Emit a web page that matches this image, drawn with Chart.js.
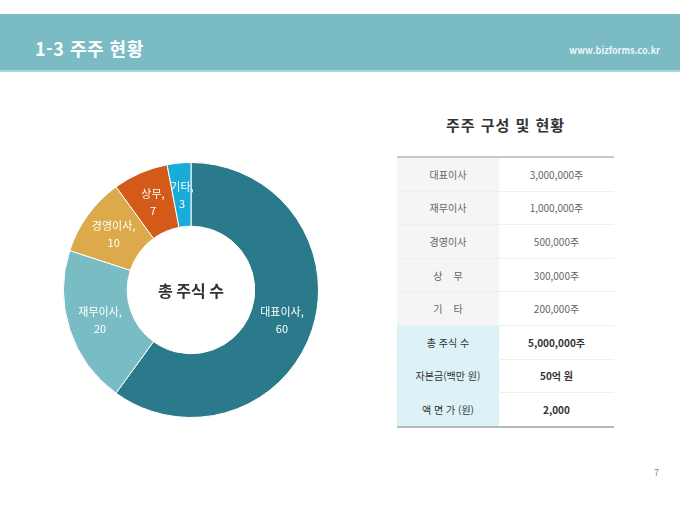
<!DOCTYPE html>
<html lang="ko">
<head>
<meta charset="utf-8">
<script src="https://cdn.jsdelivr.net/npm/chart.js@4/dist/chart.umd.min.js"></script>
<style>
  html, body { margin: 0; padding: 0; background: #fff; }
  body { width: 680px; height: 510px; position: relative; overflow: hidden;
         font-family: "Noto Sans CJK KR", "Noto Sans", sans-serif; }
  .band { position: absolute; left: 0; top: 14px; width: 680px; height: 56px;
          background: #7abbc4; border-bottom: 2px solid #a9d8dc; }
  .band h1 { position: absolute; left: 35px; top: 21px; margin: 0; color: #fff;
             font-size: 18px; font-weight: 700; letter-spacing: 0.5px; }
  .band .url { position: absolute; right: 20px; top: 30px; color: #eaf6f7;
               font-size: 9px; font-weight: 700; }
  #wrap { position: absolute; left: 61px; top: 160px; width: 260px; height: 260px; }
  .ttl { position: absolute; left: 397px; width: 217px; top: 114px; text-align: center;
         font-size: 15px; font-weight: 700; color: #333; letter-spacing: 1px; }
  table { position: absolute; left: 397px; top: 156px; width: 217px;
          border-collapse: collapse; border-top: 2px solid #c8c8c8; border-bottom: 2px solid #b8b8b8; }
  td { height: 32.6px; padding: 0; text-align: center; font-size: 10px; color: #666;
       border-bottom: 1px solid #efefef; }
  td.k { width: 102px; background: #f5f5f5; white-space: pre; }
  tr.sum td { color: #333; font-weight: 700; }
  tr.sum td.k { background: #dcf2f7; font-weight: 400; }
  .pg { position: absolute; left: 654px; top: 466px; font-size: 9px; color: #888; }
</style>
</head>
<body>
<div class="band"><h1>1-3 주주 현황</h1><div class="url">www.bizforms.co.kr</div></div>
<div id="wrap"><canvas id="chartCanvas" width="260" height="260"></canvas></div>
<div class="ttl">주주 구성 및 현황</div>
<table id="tbl"></table>
<div class="pg">7</div>
<script>
const labels = ["대표이사", "재무이사", "경영이사", "상무", "기타"];
const shares = [60, 20, 10, 7, 3];
const colors = ["#2a7a8c", "#7abcc4", "#dcaa4b", "#d35a18", "#19acd9"];

const rowLabels = ["대표이사", "재무이사", "경영이사", "상    무", "기    타"];
const rowValues = ["3,000,000주", "1,000,000주", "500,000주", "300,000주", "200,000주"];
const sumLabels = ["총 주식 수", "자본금(백만 원)", "액 면 가 (원)"];
const sumValues = ["5,000,000주", "50억 원", "2,000"];

// table
const tbl = document.getElementById("tbl");
tbl.innerHTML =
  rowLabels.map((l, i) => `<tr><td class="k">${l}</td><td>${rowValues[i]}</td></tr>`).join("") +
  sumLabels.map((l, i) => `<tr class="sum"><td class="k">${l}</td><td>${sumValues[i]}</td></tr>`).join("");

// slice labels + centre text
const labelPlugin = {
  id: "sliceLabels",
  afterDatasetsDraw(chart) {
    const ctx = chart.ctx;
    const meta = chart.getDatasetMeta(0);
    ctx.save();
    ctx.textAlign = "center";
    ctx.textBaseline = "middle";
    ctx.fillStyle = "#fff";
    ctx.font = "11px 'Noto Sans CJK KR'";
    meta.data.forEach((arc, i) => {
      const p = arc.tooltipPosition();
      ctx.fillText(labels[i] + ",", p.x, p.y - 8);
      ctx.fillText(String(shares[i]), p.x, p.y + 9);
    });
    const a = meta.data[0];
    ctx.fillStyle = "#333";
    ctx.font = "bold 16px 'Noto Sans CJK KR'";
    ctx.fillText("총 주식 수", a.x, a.y + 1);
    ctx.restore();
  }
};

new Chart(document.getElementById("chartCanvas").getContext("2d"), {
  type: "doughnut",
  data: {
    labels,
    datasets: [{
      data: shares,
      backgroundColor: colors,
      borderColor: "#fff",
      borderWidth: 1
    }]
  },
  options: {
    responsive: false,
    animation: false,
    cutout: "50%",
    layout: { padding: 2 },
    plugins: { legend: { display: false }, tooltip: { enabled: false } }
  },
  plugins: [labelPlugin]
});
</script>
</body>
</html>
